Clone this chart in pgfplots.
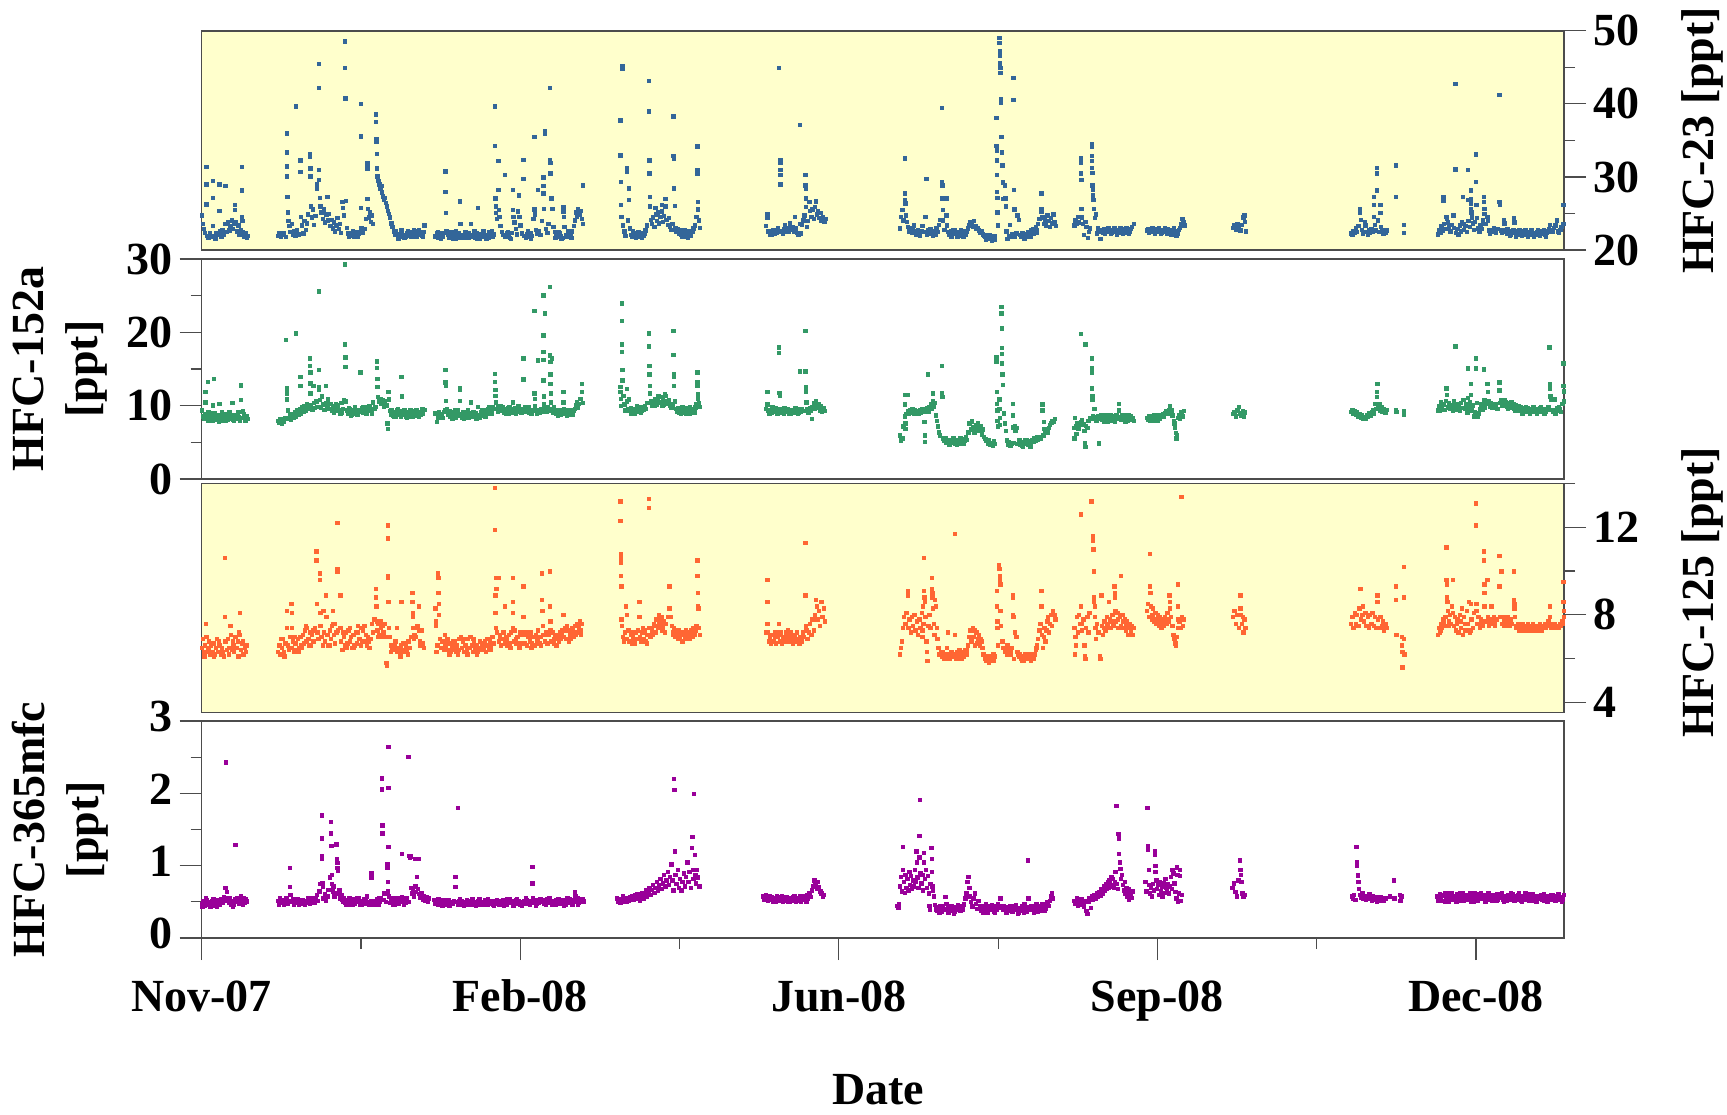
\documentclass[border=0pt]{standalone}
\usepackage{fontspec}
\setmainfont{Liberation Serif}
\usepackage{pgfplots}
\pgfplotsset{compat=1.18}
\definecolor{cA}{RGB}{51,102,153}
\definecolor{cB}{RGB}{51,153,102}
\definecolor{cC}{RGB}{255,102,51}
\definecolor{cD}{RGB}{153,0,153}
\definecolor{ybg}{RGB}{255,255,204}
\pgfplotsset{
  panel/.style={scale only axis, width=681.2pt, xmin=0, xmax=449, anchor=south west,
    axis line style={draw=black!70, line width=0.75pt},
    tick align=outside, major tick length=11pt, minor tick length=5.5pt,
    tick style={black!70, line width=0.6pt},
    tick label style={font=\fontsize{23}{27}\selectfont\bfseries},
    label style={font=\fontsize{23}{27}\selectfont\bfseries},
    /pgf/number format/assume math mode=true},
  pts/.style={only marks, color=#1, mark=square*, mark size=0.85pt, mark options={solid, line width=0.1pt, draw=#1, fill=#1}},
}
\begin{document}
\begin{tikzpicture}
\useasboundingbox (0,0) rectangle (863.5pt,-557pt);
% ---------------- HFC-23 ----------------
\begin{axis}[panel, at={(100.8pt,-125pt)}, height=109.6pt, ymin=20, ymax=50,
  axis background/.style={fill=ybg}, xtick=\empty,
  ytick={20,30,40,50}, minor ytick={25,35,45}, ytick pos=right, yticklabel pos=right,
  ylabel={HFC-23 [ppt]}, ylabel style={at={(rel axis cs:1.1013,0.5)}, anchor=center}]
\addplot[pts=cA] coordinates {
(0,24.8)(0.3,23.6)(0.6,22.9)(1,22.4)(1.45,31.4)(1.45,29.0)(1.5,26.3)(1.8,22.0)(2.2,21.7)(2.6,22.3)(3,21.8)(3.6,29.5)(3.6,27.2)(3.7,23.3)(4,22.0)(4.4,21.6)(4.8,22.4)(5.2,22.1)(5.8,29.0)(5.8,25.4)(6,22.6)(6.4,21.9)(6.8,22.8)(7.2,22.2)(7.7,28.8)(7.8,23.6)(8.2,22.5)(8.6,23.8)(9,22.7)(9.4,23.3)(9.8,24.1)(10.2,22.9)(10.5,23.6)(10.9,26.2)(10.9,25.5)(11.2,23.9)(11.6,22.6)(12,23.4)(12.4,22.2)(12.8,22.8)(13.1,31.4)(13.1,28.2)(13.2,24.6)(13.3,24.0)(13.6,22.5)(14,21.9)(14.4,22.3)(14.8,21.7)(15.2,22.0)
(25.1,22.0)(25.6,22.3)(26.1,21.9)(26.6,22.2)(27.1,22.4)(27.6,21.8)(28,36.0)(28,33.4)(28.1,31.5)(28.1,30.1)(28.2,27.3)(28.3,25.2)(28.5,24.0)(28.8,23.3)(29.2,22.5)(29.6,23.6)(30,22.1)(30.4,22.6)(30.9,39.7)(30.8,22.0)(31.3,22.8)(31.8,22.2)(32.4,32.3)(32.4,30.7)(32.6,24.6)(32.9,23.4)(33.4,22.3)(33.8,24.0)(34.2,22.8)(34.6,23.7)(35,24.9)(35.6,33.1)(35.6,32.8)(35.7,31.2)(35.7,30.1)(35.9,26.0)(36.2,24.5)(36.6,25.6)(37,23.5)(37.4,24.7)(37.8,29.0)(37.9,28.5)(38.5,45.5)(38.5,42.2)(38.6,31.0)(38.6,29.6)(38.9,27.2)(39.1,26.0)(39.4,25.2)(39.8,24.3)(40.2,25.6)(40.6,23.8)(41,24.9)(41.4,27.3)(41.5,24.1)(41.9,25.0)(42.3,23.3)(42.7,24.2)(43.1,23.0)(43.5,23.8)(43.9,22.6)(44.3,23.4)(44.7,24.4)(45.1,22.9)(45.5,23.6)(45.9,22.4)(46.3,26.6)(46.5,25.8)(46.8,24.8)(47.2,48.6)(47.2,45.0)(47.3,40.8)(47.5,26.8)(47.7,23.1)(48.1,22.3)(48.5,21.9)(48.9,22.4)(49.3,22.0)(49.7,22.6)(50.1,21.8)(50.5,22.2)(50.9,22.5)(51.3,21.9)(51.7,22.3)(52.3,40.0)(52.3,35.6)(52.4,25.8)(52.6,23.0)(53,22.4)(53.5,22.9)(54,24.3)(54.5,31.9)(54.5,31.2)(54.6,27.0)(54.8,25.7)(55.1,24.5)(55.4,25.2)(55.7,23.9)(56,24.8)(56.4,23.6)(57.4,38.6)(57.4,37.6)(57.5,35.2)(57.5,34.8)(57.6,33.2)(57.6,31.2)(57.9,30.1)(58.2,29.5)(58.5,29.0)(58.8,28.4)(59.1,28.8)(59.4,27.9)(59.7,27.4)(60,26.9)(60.3,27.2)(60.6,26.5)(61,26.0)(61.3,25.4)(61.6,25.0)(62,24.5)(62.4,23.7)(62.8,23.2)(63.2,22.6)(63.6,22.1)(64,22.3)(64.5,21.8)(65,22.2)(65.5,21.9)(66,22.4)(66.5,22.1)(67,21.8)(67.5,22.3)(68,22.0)(68.5,22.5)(69,22.2)(69.5,21.9)(70,22.4)(70.5,22.6)(71,22.1)(71.5,22.8)(72,22.3)(72.5,22.0)(73,22.5)(73.3,23.4)
(77,21.9)(77.5,22.3)(78,21.7)(78.5,22.0)(79,22.4)(79.5,21.8)(80.3,30.8)(80.3,28.0)(80.4,25.1)(80.6,22.6)(81,22.1)(81.5,21.7)(82,22.2)(82.5,21.9)(83,22.5)(83.5,21.6)(84,22.0)(84.5,22.3)(85,26.7)(85.2,23.6)(85.5,21.8)(86,22.1)(86.5,21.7)(87,22.2)(87.5,21.9)(88,22.4)(88.6,23.6)(89,21.8)(89.5,22.1)(90,21.7)(90.5,22.3)(91,25.8)(91.2,22.0)(91.6,21.6)(92,22.2)(92.5,21.9)(93,22.4)(93.5,21.8)(94,22.1)(94.5,21.7)(95,22.3)(95.5,22.6)(96,22.2)(96.6,39.7)(96.6,34.3)(96.7,27.1)(96.8,26.0)(96.9,25.1)(97.2,24.3)(97.7,32.2)(97.7,28.3)(97.8,25.5)(98,24.6)(98.4,23.3)(98.8,22.5)(99.3,22.1)(99.8,30.3)(100,21.8)(100.5,22.3)(101,22.0)(101.5,21.7)(102,22.4)(102.4,28.3)(102.5,25.5)(102.7,24.6)(103,23.8)(103.4,22.9)(103.8,22.2)(104.2,25.3)(104.5,27.5)(104.6,24.6)(105,23.4)(105.5,22.3)(106,32.4)(106,29.8)(106.3,22.0)(106.8,21.7)(107.3,22.2)(107.8,21.9)(108.3,22.4)(108.8,22.0)(109.2,24.3)(109.6,35.5)(109.6,25.6)(109.7,24.9)(110,22.8)(110.4,22.3)(110.8,28.3)(111.1,22.6)(111.5,22.1)(112,24.0)(112.5,30.0)(112.5,28.8)(112.6,27.8)(112.7,25.7)(113,36.3)(113.1,36.0)(113.4,22.9)(113.8,22.4)(114.2,23.6)(114.7,42.2)(114.7,32.4)(114.8,32.0)(114.9,30.5)(115.2,27.1)(115.5,25.7)(115.9,23.2)(116.3,22.5)(116.8,22.1)(117.3,21.8)(117.8,22.3)(118.3,22.0)(118.8,21.7)(119.2,25.9)(119.2,25.3)(119.3,24.6)(119.5,23.2)(120,22.1)(120.5,21.8)(121,22.4)(121.5,22.0)(122,22.6)(122.5,23.3)(123,24.1)(123.4,25.2)(123.6,24.6)(124,25.6)(124.4,24.9)(124.8,25.4)(125.2,24.3)(125.6,28.9)(125.6,23.6)
(137.9,37.8)(137.9,33.0)(138,29.4)(138.1,26.2)(138.3,24.6)(138.6,45.2)(138.6,44.8)(138.8,23.4)(139.2,22.6)(139.6,22.0)(140.1,31.2)(140.1,30.8)(140.3,24.1)(140.8,28.5)(140.8,26.9)(141,23.0)(141.4,22.1)(141.8,21.8)(142.2,22.3)(142.7,21.9)(143.2,22.2)(143.7,22.5)(144.2,21.8)(144.7,22.1)(145.2,22.4)(145.7,22.0)(146.2,22.7)(146.7,23.4)(147.4,43.2)(147.4,39.0)(147.5,32.3)(147.5,30.5)(147.6,27.3)(147.7,26.0)(147.9,24.2)(148.3,23.6)(148.7,24.5)(149.1,23.2)(149.5,25.8)(149.6,24.9)(149.9,24.0)(150.3,25.2)(150.7,23.7)(151.1,24.6)(151.5,26.2)(151.6,25.3)(151.9,23.9)(152.3,24.7)(152.7,27.0)(152.8,26.0)(153.1,24.2)(153.5,23.5)(153.9,24.4)(154.3,23.2)(154.7,22.8)(155.1,23.6)(155.4,38.3)(155.4,32.9)(155.5,32.5)(155.6,28.5)(155.8,26.1)(156,23.0)(156.4,22.5)(156.8,22.9)(157.2,22.3)(157.6,22.7)(158,22.1)(158.4,22.5)(158.8,22.0)(159.2,22.4)(159.6,21.9)(160,22.3)(160.4,22.6)(160.8,22.2)(161.2,22.0)(161.6,22.5)(162,23.0)(162.5,23.4)(162.9,24.6)(163.3,34.2)(163.3,31.0)(163.3,30.5)(163.4,26.6)(163.4,25.6)(163.7,24.1)(164.1,23.1)
(185.9,23.3)(186.3,24.9)(186.3,24.5)(186.7,22.6)(187.1,22.2)(187.5,22.5)(187.9,22.1)(188.3,22.7)(188.7,22.3)(189.1,22.8)(189.5,22.4)(189.9,23.0)(190.2,45.0)(190.6,32.3)(190.6,32.0)(190.6,31.0)(190.7,30.3)(190.7,29.0)(191,22.6)(191.4,22.3)(191.8,22.9)(192.2,23.4)(192.6,22.6)(193,23.1)(193.4,22.5)(193.8,23.7)(194.2,22.8)(194.6,23.2)(195,22.6)(195.4,24.6)(195.8,23.0)(196.2,22.4)(196.6,22.1)(197,37.2)(197,23.6)(197.4,22.3)(197.8,23.5)(198.2,24.1)(198.6,24.8)(198.9,30.3)(198.9,28.9)(199,28.5)(199,27.1)(199.1,25.9)(199.4,23.2)(199.8,24.0)(200.2,26.6)(200.4,25.4)(200.8,24.6)(201.2,25.6)(201.6,24.3)(202,25.9)(202.4,26.7)(202.6,24.9)(203,25.3)(203.4,24.4)(203.8,25.1)(204.2,24.0)(204.7,24.6)(205.1,23.9)(205.5,24.3)
(230.1,23.0)(230.4,24.6)(230.8,25.5)(231.2,24.1)(231.6,32.6)(231.6,27.8)(231.7,26.9)(231.8,26.4)(232,24.8)(232.3,23.9)(232.7,23.2)(233.1,22.6)(233.5,23.1)(233.9,22.4)(234.3,22.9)(234.7,23.4)(235.1,22.6)(235.5,22.2)(235.9,22.8)(236.3,22.3)(236.7,22.0)(237.1,22.6)(237.5,23.3)(237.9,22.5)(238.4,24.6)(238.8,29.8)(238.9,22.1)(239.3,22.7)(239.7,22.3)(240.1,22.9)(240.5,22.4)(240.9,22.0)(241.3,22.6)(241.7,22.2)(242.1,23.1)(242.5,22.5)(242.9,23.5)(243.3,24.2)(243.9,39.5)(243.9,29.3)(244,28.9)(244.1,27.1)(244.2,25.5)(244.3,24.1)(244.7,22.8)(245.4,27.1)(245.4,24.8)(245.6,23.4)(246,22.5)(246.4,22.1)(246.8,22.6)(247.2,22.2)(247.6,22.7)(248,22.3)(248.4,22.5)(248.8,22.1)(249.2,22.4)(249.6,22.0)(250,22.5)(250.4,22.2)(250.8,22.6)(251.2,22.3)(251.6,22.1)(252,22.6)(252.4,23.0)(252.8,23.4)(253.2,23.9)(253.6,23.6)(254.1,23.2)(254.5,24.0)(254.9,23.3)(255.3,22.9)(255.7,23.1)(256.1,22.7)(256.5,22.4)(256.9,22.6)(257.3,22.2)(257.7,22.0)(258.1,21.8)(258.5,22.1)(258.9,21.7)(259.3,21.9)(259.7,21.6)(260.1,21.8)(260.6,21.5)(261,21.7)(261.4,21.4)(261.8,38.1)(261.8,34.3)(261.9,33.7)(261.9,32.3)(262,30.3)(262,28.0)(262.1,27.2)(262.2,25.2)(262.4,23.4)(262.8,49.1)(262.8,48.4)(262.9,47.2)(262.9,46.6)(263,45.6)(263.1,45.0)(263.2,44.3)(263.3,40.7)(263.4,40.2)(263.5,35.5)(263.6,33.4)(263.8,31.6)(264,29.3)(264.2,27.0)(264.7,28.9)(264.8,27.1)(264.9,26.0)(265.1,22.6)(265.5,21.6)(265.9,22.0)(266.3,23.5)(266.7,21.8)(267.1,22.2)(267.5,43.6)(267.5,40.6)(267.6,28.3)(267.7,25.6)(268,21.9)(268.4,22.3)(268.8,24.8)(269.2,24.2)(269.6,22.1)(270,21.8)(270.4,22.4)(270.8,22.0)(271.2,21.7)(271.6,22.2)(272,21.9)(272.4,22.5)(272.8,22.1)(273.2,22.7)(273.6,22.3)(274,22.9)(274.4,22.5)(274.8,23.2)(275.2,22.8)(275.6,23.6)(276,24.3)(276.6,27.8)(276.6,25.7)(276.7,25.3)(277,24.5)(277.4,23.6)(277.8,24.2)(278.2,23.4)(278.6,24.8)(279,24.0)(279.4,23.2)(279.8,24.4)(280.2,23.7)(280.6,24.9)(281,23.9)(281.4,23.3)
(287.5,23.4)(287.9,24.1)(288.3,23.6)(288.7,24.6)(289.1,23.8)(289.7,32.6)(289.7,32.0)(289.7,30.5)(289.8,29.6)(289.8,25.7)(290,24.5)(290.3,23.6)(290.7,22.1)(291.1,23.9)(291.5,23.2)(291.9,21.7)(292.3,22.5)(292.7,23.0)(293.3,34.5)(293.3,34.2)(293.3,32.9)(293.4,32.2)(293.4,31.3)(293.5,30.6)(293.5,28.9)(293.6,28.3)(293.7,27.5)(293.8,26.9)(294,25.7)(294.3,24.4)(294.7,24.9)(294.9,22.3)(295.3,23.0)(295.7,22.5)(296.1,21.6)(296.5,22.8)(296.9,22.4)(297.3,22.9)(297.7,22.6)(298.1,22.8)(298.5,22.5)(298.9,22.9)(299.3,22.7)(299.7,22.4)(300.1,22.8)(300.5,22.6)(300.9,23.0)(301.3,22.5)(301.7,22.7)(302.1,22.4)(302.5,22.9)(302.9,22.6)(303.3,22.8)(303.7,22.5)(304.1,22.9)(304.5,22.7)(304.9,22.4)(305.3,22.8)(305.7,22.6)(306.1,22.9)(306.5,23.2)(307.1,23.6)
(311.5,22.7)(311.9,22.9)(312.3,22.6)(312.7,22.8)(313.1,22.5)(313.5,22.9)(313.9,22.7)(314.3,22.6)(314.7,22.9)(315.1,22.5)(315.5,22.8)(315.9,22.6)(316.3,22.4)(316.7,22.7)(317.1,22.5)(317.5,22.8)(317.9,22.6)(318.3,22.9)(318.7,22.7)(319.1,22.4)(319.5,22.2)(319.9,22.6)(320.3,23.0)(320.7,22.6)(321.1,22.0)(321.5,22.3)(321.9,22.8)(322.3,23.1)(322.7,23.6)(323.1,24.3)(323.5,23.9)(323.8,23.4)
(339.8,23.1)(340.3,23.4)(340.8,22.8)(341.3,23.6)(341.8,23.0)(342.3,22.7)(342.8,23.5)(343.2,24.5)(343.5,24.8)(343.8,23.9)(344.1,22.6)
(378.7,22.3)(379.1,22.1)(379.5,22.6)(379.9,22.4)(380.3,23.0)(380.7,22.5)(381.1,23.3)(381.6,25.7)(381.6,25.2)(381.9,24.2)(382.3,22.8)(382.7,22.3)(383.3,23.9)(383.4,23.4)(383.8,22.5)(384.2,22.2)(384.6,22.7)(385,22.4)(385.4,22.9)(385.8,22.6)(386.2,27.3)(386.2,26.2)(386.3,24.6)(386.5,23.5)(386.9,22.7)(387.2,31.3)(387.2,30.5)(387.3,28.2)(387.5,24.1)(387.8,22.5)(388.4,26.2)(388.4,25.1)(388.6,23.2)(389,22.6)(389.4,22.3)(389.8,22.8)(390.2,22.4)(390.6,22.7)(393.5,31.6)(393.5,27.3)(396.1,23.5)(396.1,22.4)
(407.3,22.2)(407.7,22.8)(408.1,22.4)(408.5,23.3)(408.9,22.7)(409.2,27.3)(409.2,26.8)(409.4,23.6)(409.8,22.9)(410.2,24.6)(410.3,24.3)(410.6,23.8)(411,23.2)(411.4,22.6)(411.8,23.5)(412.4,24.8)(412.6,23.1)(413.1,42.8)(413.1,31.1)(413.3,22.4)(413.7,22.9)(414.1,22.2)(414.5,23.4)(414.9,22.6)(415.3,23.9)(415.6,27.3)(415.7,23.6)(416,22.8)(416.4,23.3)(416.8,22.5)(417.2,31.0)(417.2,26.9)(417.4,24.0)(417.8,23.2)(418.2,28.2)(418.2,27.0)(418.3,26.4)(418.3,25.7)(418.4,25.2)(418.6,24.5)(418.9,23.7)(419.2,22.8)(419.6,23.9)(419.9,33.1)(419.9,29.4)(420,26.2)(420.2,24.4)(420.6,23.0)(421,22.6)(421.4,23.5)(421.8,22.9)(422.1,24.1)(422.5,27.3)(422.5,26.6)(422.6,25.7)(422.7,25.0)(423,23.6)(423.7,24.6)(423.8,24.0)(424.1,22.7)(424.5,22.3)(424.9,22.8)(425.3,22.5)(425.7,23.0)(426.1,22.6)(426.5,22.4)(427,22.9)(427.6,41.3)(427.6,26.6)(427.7,26.2)(428,22.7)(428.4,22.4)(428.8,22.8)(429.1,24.2)(429.3,23.7)(429.6,22.6)(430,22.3)(430.4,22.7)(430.8,22.5)(431.2,22.2)(431.6,22.6)(432,22.4)(432.4,24.4)(432.5,23.8)(432.8,22.5)(433.2,22.3)(433.6,22.6)(434,22.2)(434.4,22.5)(434.8,22.3)(435.2,22.6)(435.6,22.2)(436,22.4)(436.4,22.3)(436.8,22.5)(437.2,22.2)(437.6,22.4)(438,22.3)(438.4,22.6)(438.8,22.2)(439.2,22.4)(439.6,22.3)(440,22.5)(440.4,22.2)(440.8,22.4)(441.2,22.3)(441.6,22.6)(442,22.3)(442.4,22.5)(442.8,22.2)(443.2,22.4)(443.6,22.6)(444,22.9)(444.3,23.5)(444.7,22.8)(445.1,22.5)(445.5,23.1)(446,23.4)(446.5,24.1)(446.9,22.6)(447.3,22.4)(447.7,22.8)(448.1,23.2)(448.7,26.2)(448.7,23.6)(449.2,22.5)
(63.8,22.6)(64.8,21.6)(65.8,22.7)(66.8,21.7)(67.8,22.6)(68.8,21.8)(69.8,22.8)(70.8,21.8)(71.8,22.5)(72.8,21.9)
(77.8,22.5)(78.8,21.6)(79.8,22.4)(81.8,22.5)(82.8,21.6)(83.8,22.6)(84.8,21.7)(86.8,22.5)(87.8,21.7)(89.8,22.6)(90.8,21.6)(92.8,22.6)(93.8,21.6)(94.8,22.5)(95.8,21.8)
(100.8,22.5)(101.8,21.6)(107.5,22.6)(108.5,21.6)(116.5,21.7)(117.5,22.5)(118.5,21.6)(120.8,22.6)(121.8,21.7)
(142,22.6)(143,21.7)(144,22.5)(145,21.7)(146,22.3)(157,22.7)(158.2,21.8)(159,22.7)(160.2,21.7)(161,22.6)
(247,21.8)(248.2,22.7)(249,21.8)(250.2,22.8)(251,21.8)(257,22.6)(258.3,21.5)(259.5,22.1)(260.3,21.3)(261.2,21.9)
(270.2,22.3)(271,21.6)(272.2,22.4)(273,21.8)(274.2,22.3)(275,22.4)
(297.5,22.3)(298.7,23.1)(299.5,22.3)(300.7,23.1)(301.5,22.2)(302.7,23.1)(303.5,22.3)(304.7,23.1)(305.5,22.3)
(312.1,22.4)(313.3,23.1)(314.1,22.3)(315.3,23.1)(316.1,22.3)(317.3,23.1)(318.1,22.3)(319.3,22.8)
(430.2,22.9)(431,22.0)(432.2,22.8)(433,21.9)(434.2,22.8)(435,22.0)(436.2,22.8)(437,21.9)(438.2,22.8)(439,21.9)(440.2,22.8)(441,22.0)(442.2,22.8)(443,21.9)
};
\end{axis}
% ---------------- HFC-152a ----------------
\begin{axis}[panel, at={(100.8pt,-239.5pt)}, height=110pt, ymin=0, ymax=30, xtick=\empty,
  ytick={0,10,20,30}, minor ytick={5,15,25}, ytick pos=left, yticklabel pos=left,
  ylabel={HFC-152a\\{[ppt]}}, ylabel style={at={(rel axis cs:-0.1039,0.5)}, anchor=center, align=center}]
\addplot[pts=cB] coordinates {
(0,9.4)(0.3,8.6)(0.7,8.2)(1,8.9)(1.2,11.9)(1.2,10.5)(1.4,8.4)(1.9,13.3)(2,8.0)(2.4,8.7)(2.8,8.3)(3.2,9.0)(3.6,10.1)(3.6,8.9)(4,13.7)(4.1,8.2)(4.5,8.6)(5,8.1)(5.4,8.8)(5.8,10.3)(5.9,8.4)(6.3,8.0)(6.8,8.7)(7.2,8.3)(7.6,8.9)(8,8.4)(8.4,8.1)(8.8,8.6)(9.2,8.2)(9.7,8.8)(10.1,10.4)(10.2,8.5)(10.6,8.0)(11,8.7)(11.4,8.3)(11.8,9.1)(12.2,8.5)(12.6,8.0)(12.8,12.8)(12.8,10.8)(13,9.2)(13.4,8.4)(13.8,8.9)(14.2,8.3)(14.6,8.6)(15,8.2)
(25.1,8.0)(25.5,7.7)(25.9,8.2)(26.3,7.6)(26.7,8.1)(27.1,7.8)(27.5,8.3)(27.6,19.0)(28,12.4)(28,11.7)(28.1,10.9)(28.3,9.4)(28.6,8.2)(29,8.7)(29.4,8.1)(29.8,8.9)(30.2,8.4)(30.6,9.2)(30.9,19.9)(31,8.6)(31.4,9.4)(31.8,8.8)(32.2,9.6)(32.4,14.0)(32.4,12.7)(32.6,9.0)(33,9.8)(33.4,9.2)(33.8,10.0)(34.2,9.4)(34.6,10.2)(35,9.6)(35.6,16.5)(35.6,15.5)(35.7,14.6)(35.7,13.1)(35.8,11.7)(36,10.1)(36.4,9.5)(36.8,12.7)(36.9,10.4)(37.3,9.7)(37.7,10.6)(38.1,9.9)(38.5,25.6)(38.5,14.9)(38.6,12.6)(38.6,12.2)(38.8,10.8)(39.2,9.8)(39.6,11.3)(40,10.2)(40.4,9.5)(40.8,12.7)(40.9,10.4)(41.3,9.8)(41.6,10.9)(42,9.6)(42.4,10.3)(42.8,9.4)(43.2,10.0)(43.6,9.1)(44,9.7)(44.4,9.3)(44.8,10.1)(45.2,9.5)(45.6,9.0)(46,10.4)(46.4,9.6)(46.8,10.8)(47.2,29.3)(47.2,18.4)(47.3,16.6)(47.3,15.3)(47.5,10.6)(47.8,9.4)(48.2,9.0)(48.6,9.6)(49,9.2)(49.4,8.8)(49.8,9.4)(50.2,9.0)(50.6,9.5)(51,9.1)(51.4,8.9)(51.8,9.5)(52.3,14.6)(52.4,9.2)(52.8,9.7)(53.2,9.1)(53.6,9.8)(54,9.3)(54.4,9.9)(54.8,9.4)(55.2,10.0)(55.6,9.5)(56,9.0)(56.4,10.5)(56.8,9.6)(57.2,9.9)(57.7,16.1)(57.7,15.2)(57.8,13.7)(57.8,12.6)(58,11.2)(58.4,10.6)(58.8,10.9)(59.2,10.3)(59.6,10.8)(60,9.9)(60.4,10.6)(60.8,10.1)(61.1,7.6)(61.2,6.9)(61.5,11.9)(61.6,10.9)(61.9,9.3)(62.3,8.8)(62.7,9.2)(63.1,8.7)(63.5,9.1)(63.9,8.6)(64.3,9.4)(64.7,8.8)(65.1,9.0)(65.5,8.6)(65.8,14.0)(65.9,11.3)(66.1,9.3)(66.5,8.8)(66.9,9.1)(67.3,8.5)(67.7,9.2)(68.1,8.7)(68.5,9.0)(68.9,8.6)(69.3,9.3)(69.7,8.8)(70.1,9.1)(70.5,8.7)(70.9,9.3)(71.3,8.9)(71.7,9.2)(72.1,8.8)(72.5,9.4)(72.9,9.0)(73.3,9.5)
(77,9.0)(77.4,7.8)(77.8,8.6)(78.2,9.1)(78.6,8.5)(79,8.9)(79.4,8.4)(79.8,9.2)(80.3,14.9)(80.3,13.2)(80.4,12.8)(80.5,10.7)(80.7,9.6)(81.1,8.8)(81.5,9.3)(81.9,8.6)(82.3,9.1)(82.7,8.5)(83.1,9.0)(83.5,8.4)(83.9,8.9)(84.3,9.4)(84.6,8.7)(85,12.5)(85,12.2)(85.1,10.7)(85.4,8.9)(85.8,8.4)(86.2,9.1)(86.6,8.6)(87,9.2)(87.4,8.7)(87.8,8.4)(88.2,9.0)(88.6,10.5)(88.7,8.8)(89.1,8.5)(89.5,9.1)(89.9,8.6)(90.3,9.0)(90.7,8.5)(91,9.9)(91.2,8.8)(91.6,8.4)(92,9.1)(92.4,8.7)(92.8,9.3)(93.2,8.8)(93.6,9.4)(94,9.0)(94.4,9.6)(94.8,9.1)(95.2,9.7)(95.6,9.2)(96,9.8)(96.6,14.4)(96.6,13.3)(96.7,12.2)(96.7,11.4)(96.8,10.5)(97.1,9.6)(97.5,9.2)(97.7,9.9)(98,9.4)(98.4,10.0)(98.8,9.3)(99.2,9.8)(99.6,9.1)(100,9.6)(100.4,9.2)(100.8,9.7)(101.2,9.0)(101.6,9.5)(102,9.1)(102.4,10.5)(102.5,9.6)(102.9,9.2)(103.3,9.7)(103.7,9.3)(104.1,9.8)(104.5,9.2)(104.9,9.6)(105.3,9.1)(105.7,9.5)(106,16.5)(106,13.6)(106.2,9.3)(106.6,9.8)(107,9.2)(107.4,9.6)(107.8,9.1)(108.2,9.5)(108.6,9.0)(109,9.4)(109.6,23.0)(109.6,11.7)(109.7,11.0)(109.8,10.0)(110.1,9.4)(110.5,9.0)(110.8,16.2)(110.9,9.5)(111.3,9.1)(111.7,9.6)(112.1,9.2)(112.5,25.1)(112.5,19.6)(112.5,17.4)(112.6,16.3)(112.6,13.5)(112.7,11.3)(112.8,10.2)(113,22.6)(113.1,9.7)(113.5,9.2)(113.9,9.8)(114.3,9.3)(114.7,26.2)(114.7,16.9)(114.8,16.0)(114.8,14.3)(114.9,13.0)(115,11.7)(115.1,10.5)(115.3,16.5)(115.5,9.6)(115.9,9.1)(116.3,9.5)(116.7,9.0)(117.1,9.4)(117.5,8.9)(117.9,9.3)(118.3,8.8)(118.7,9.2)(119.2,11.9)(119.2,10.5)(119.3,9.6)(119.7,9.0)(120.1,9.4)(120.5,8.9)(120.9,9.3)(121.3,8.8)(121.7,9.2)(122.1,8.8)(122.5,9.3)(122.9,9.6)(123.3,10.1)(123.6,10.5)(123.9,9.7)(124.3,10.3)(124.7,11.0)(125.2,13.0)(125.3,11.9)(125.6,10.4)
(137.9,12.6)(137.9,11.9)(138,11.0)(138,10.0)(138.4,24.0)(138.4,21.6)(138.5,18.4)(138.5,17.4)(138.6,14.9)(138.6,13.5)(138.9,11.4)(139.2,10.2)(139.6,9.4)(140,10.6)(140.1,12.3)(140.4,9.6)(140.8,10.9)(141.2,9.3)(141.6,9.0)(142,9.5)(142.4,9.1)(142.8,9.6)(143.2,9.2)(143.6,9.7)(144,9.3)(144.4,9.8)(144.8,9.4)(145.2,9.9)(145.6,9.5)(146,10.0)(146.4,9.6)(146.8,10.4)(147.4,19.9)(147.4,18.1)(147.5,15.5)(147.5,14.3)(147.6,12.7)(147.7,11.7)(147.9,10.6)(148.3,10.1)(148.7,10.7)(149.1,10.3)(149.5,10.9)(149.9,10.2)(150.3,11.0)(150.7,10.4)(151.1,11.2)(151.5,10.5)(151.9,10.9)(152.3,10.2)(152.7,11.4)(153.1,10.6)(153.5,10.3)(153.9,10.8)(154.3,10.1)(154.7,9.7)(155.1,10.2)(155.4,20.2)(155.4,17.0)(155.5,14.4)(155.5,14.0)(155.6,12.7)(155.8,10.6)(156.2,9.6)(156.6,9.2)(157,9.7)(157.4,9.3)(157.8,9.0)(158.2,9.5)(158.6,9.1)(159,9.6)(159.4,9.2)(159.8,9.7)(160.2,9.3)(160.6,9.0)(161,9.5)(161.4,9.1)(161.8,9.6)(162.2,9.2)(162.6,9.8)(163,10.2)(163.3,14.6)(163.3,13.3)(163.3,12.7)(163.4,11.6)(163.4,11.0)(163.7,10.4)(164.1,9.9)
(185.9,9.6)(186.3,11.9)(186.3,10.2)(186.6,9.3)(187,9.0)(187.4,9.5)(187.8,9.1)(188.2,9.6)(188.6,9.2)(189,9.7)(189.4,9.3)(189.8,9.0)(190.2,18.0)(190.2,17.2)(190.3,11.8)(190.4,11.4)(190.6,9.6)(191,9.1)(191.4,9.5)(191.8,9.0)(192.2,9.4)(192.6,9.2)(193,9.6)(193.4,9.1)(193.8,9.5)(194.2,9.0)(194.6,9.4)(195,9.1)(195.4,9.5)(195.8,9.2)(196.2,9.6)(196.6,9.1)(197,14.7)(197,9.5)(197.4,9.2)(197.8,9.6)(198.2,9.3)(198.9,20.2)(198.9,14.7)(199,12.6)(199,12.0)(199.2,10.5)(199.5,9.6)(199.9,9.1)(200.3,9.7)(200.7,9.3)(201,8.2)(201.2,9.8)(201.6,10.4)(202,9.6)(202.4,10.6)(202.8,9.8)(203.2,10.2)(203.6,9.4)(204,10.0)(204.4,9.2)(204.8,9.7)(205.2,9.3)
(230.1,6.0)(230.4,5.3)(230.8,5.6)(231.2,7.2)(231.6,11.5)(231.6,10.2)(231.7,8.6)(231.8,7.6)(231.9,6.9)(232.2,8.9)(232.6,11.5)(232.6,9.3)(233,8.9)(233.4,9.5)(233.8,9.1)(234.2,9.6)(234.6,9.0)(235,9.4)(235.4,8.9)(235.8,9.3)(236.2,9.0)(236.6,9.5)(237,9.1)(237.4,9.6)(237.8,9.2)(238.1,7.8)(238.2,6.0)(238.3,5.1)(238.6,9.4)(239,9.7)(239.3,14.3)(239.4,9.2)(239.8,9.8)(240.2,10.2)(240.6,9.6)(241,11.7)(241,10.6)(241.1,9.9)(241.4,10.4)(241.8,8.7)(242.2,8.0)(242.5,7.2)(242.9,6.4)(243.3,6.0)(243.9,15.5)(243.9,11.7)(244,11.2)(244.2,5.6)(244.6,5.2)(245,5.4)(245.4,5.0)(245.8,5.3)(246.2,4.9)(246.6,5.2)(247,5.0)(247.4,5.4)(247.8,5.1)(248.2,4.9)(248.6,5.3)(249,5.0)(249.4,5.2)(249.8,4.9)(250.2,5.4)(250.6,5.1)(251,5.5)(251.4,5.2)(251.8,5.7)(252.2,5.4)(252.6,6.4)(253,7.6)(253.4,6.8)(253.8,7.9)(254.2,7.1)(254.6,6.4)(255,7.4)(255.4,6.9)(255.8,7.7)(256.2,6.6)(256.6,7.2)(257,6.1)(257.4,6.8)(257.8,5.8)(258.2,5.5)(258.6,5.2)(259,4.9)(259.4,5.3)(259.8,4.7)(260.2,5.0)(260.6,4.6)(261,5.2)(261.4,4.8)(261.8,16.7)(261.8,16.1)(262,11.9)(262,10.3)(262.1,9.4)(262.2,8.0)(262.3,7.2)(262.8,10.9)(262.8,9.6)(262.9,8.4)(263,7.4)(263.5,23.5)(263.5,22.6)(263.6,20.6)(263.6,17.9)(263.7,17.1)(263.7,15.8)(263.8,14.3)(263.9,12.9)(264.3,9.0)(264.6,7.6)(264.9,6.6)(265.2,5.3)(265.6,4.7)(266,5.1)(266.4,4.6)(266.8,4.9)(267.2,10.3)(267.2,8.7)(267.3,7.1)(267.6,5.0)(268,7.3)(268.1,6.6)(268.4,7.0)(268.8,4.8)(269.2,5.2)(269.6,4.7)(270,5.1)(270.4,4.6)(270.8,4.9)(271.2,5.3)(271.6,4.8)(272,5.2)(272.4,4.7)(272.8,5.0)(273.2,4.8)(273.6,5.3)(274,5.1)(274.4,5.6)(274.8,5.3)(275.2,5.7)(275.6,5.4)(276,5.8)(276.4,5.5)(277,10.2)(277,9.4)(277.3,6.0)(277.5,7.8)(277.6,6.9)(277.9,6.3)(278.3,6.7)(278.7,6.4)(279.1,7.0)(279.5,7.4)(279.9,7.7)(280.3,8.0)(280.7,7.8)(281.1,8.2)
(287.5,7.0)(287.6,5.6)(287.8,8.4)(288,7.3)(288.2,6.2)(288.5,7.7)(288.9,6.9)(289.3,7.4)(289.7,19.8)(289.7,7.8)(290.1,8.1)(290.5,7.5)(290.8,6.6)(291,4.9)(291.1,4.4)(291.2,18.4)(291.4,7.3)(291.8,7.0)(292.2,8.0)(292.6,8.4)(293.3,16.5)(293.3,15.2)(293.4,14.6)(293.4,12.4)(293.5,11.4)(293.5,10.9)(293.6,8.6)(293.8,8.2)(294.1,9.6)(294.4,8.5)(294.8,8.0)(295.2,8.6)(295.6,4.9)(295.8,8.2)(296.2,8.7)(296.6,8.1)(297,8.5)(297.4,7.9)(297.8,8.6)(298.2,8.2)(298.6,8.7)(299,8.3)(299.4,8.0)(299.8,8.5)(300.2,8.1)(300.6,8.6)(301,8.2)(301.4,8.8)(301.8,8.3)(302.2,10.3)(302.3,9.4)(302.6,8.5)(303,8.1)(303.4,8.6)(303.8,8.2)(304.2,8.7)(304.6,8.3)(305,8.0)(305.4,8.5)(305.8,8.1)(306.2,8.6)(306.6,8.3)(307.1,8.0)
(311.5,8.4)(311.9,8.1)(312.3,8.6)(312.7,8.2)(313.1,8.5)(313.5,8.0)(313.9,8.4)(314.3,8.7)(314.7,8.2)(315.1,8.6)(315.5,8.3)(315.9,8.8)(316.3,8.5)(316.7,8.9)(317.1,8.6)(317.5,9.0)(317.9,9.3)(318.3,8.9)(318.7,9.5)(319.1,10.0)(319.5,9.4)(319.9,8.7)(320.3,8.0)(320.5,7.6)(320.7,7.0)(320.9,6.3)(321.1,5.6)(321.3,6.0)(321.6,8.4)(322,8.8)(322.4,8.2)(322.8,9.1)(323.2,8.6)(323.6,9.3)
(339.8,8.9)(340.3,9.2)(340.8,8.6)(341.3,9.4)(341.8,9.9)(342.2,9.0)(342.6,8.7)(343,9.3)(343.4,8.5)(343.8,9.1)
(378.7,9.2)(379.1,9.5)(379.5,9.0)(379.9,9.3)(380.3,8.8)(380.7,9.1)(381.1,8.6)(381.5,8.9)(381.9,8.4)(382.3,8.7)(382.7,8.2)(383.1,8.5)(383.5,8.3)(383.9,8.8)(384.3,8.5)(384.7,9.0)(385.1,8.7)(385.5,9.2)(385.9,9.4)(386.3,9.0)(386.6,10.3)(386.9,9.6)(387.2,11.9)(387.3,11.2)(387.4,13.0)(387.6,9.8)(388,10.3)(388.3,9.4)(388.7,9.9)(389.1,9.2)(389.5,9.6)(390,9.1)(390.5,9.5)(393.5,9.5)(393.6,9.2)(396.1,9.3)(396.2,8.8)
(407.3,9.4)(407.6,10.0)(407.9,9.3)(408.3,10.5)(408.7,9.6)(409.1,10.2)(409.5,9.5)(409.9,10.7)(410.2,12.4)(410.3,11.5)(410.6,9.8)(411,10.4)(411.4,9.6)(411.8,10.1)(412.2,9.4)(412.6,10.6)(413.1,18.1)(413,9.8)(413.4,10.3)(413.8,9.5)(414.2,10.0)(414.6,9.3)(415,10.4)(415.4,9.7)(415.8,10.8)(416.2,9.6)(416.6,10.2)(417,9.1)(417.2,15.1)(417.3,11.1)(417.5,9.8)(417.9,10.5)(418.2,13.0)(418.3,11.5)(418.5,9.4)(418.9,10.1)(419.3,8.6)(419.6,9.2)(419.9,16.5)(419.9,15.1)(420.1,10.4)(420.5,8.5)(420.9,9.0)(421.3,9.6)(421.7,10.2)(422.1,9.5)(422.5,15.0)(422.6,10.8)(422.9,9.7)(423.3,10.3)(423.7,13.0)(423.8,11.9)(424.1,10.6)(424.5,9.9)(424.9,10.4)(425.3,9.8)(425.7,10.3)(426.1,9.7)(426.5,10.2)(427,9.6)(427.6,13.2)(427.6,12.1)(427.8,10.4)(428.2,10.8)(428.6,10.1)(429,10.6)(429.4,10.0)(429.8,10.5)(430.2,9.9)(430.6,10.4)(431,9.8)(431.4,10.3)(431.8,9.7)(432.2,10.2)(432.6,9.6)(433,10.1)(433.4,9.5)(433.8,9.9)(434.2,9.4)(434.6,9.8)(435,9.3)(435.4,9.7)(435.8,9.2)(436.2,9.6)(436.6,9.3)(437,9.7)(437.4,9.2)(437.8,9.6)(438.2,9.3)(438.6,9.7)(439,9.2)(439.4,9.5)(439.8,9.2)(440.2,9.6)(440.6,9.3)(441,9.7)(441.4,9.2)(441.8,9.5)(442.2,9.3)(442.6,9.6)(443,9.2)(443.4,9.5)(443.8,9.8)(444.1,18.0)(444.2,13.0)(444.3,12.4)(444.4,11.3)(444.6,10.9)(445,9.5)(445.4,9.2)(445.9,10.9)(446.3,9.4)(446.7,9.7)(447.1,9.3)(447.5,9.6)(447.9,9.2)(448.3,10.3)(448.7,15.8)(448.7,12.7)(448.8,12.0)(448.9,10.6)(449.2,9.6)
(2.2,9.1)(3.4,8.0)(4.3,9.0)(5.6,7.9)(6.6,9.1)(7.8,8.0)(9,9.2)(10.4,8.1)(11.6,8.2)(13.6,9.3)(14.4,8.0)
(44.2,10.2)(45.4,8.9)(46.2,9.1)(48.4,9.7)(49.2,8.7)(50.4,9.8)(51.2,8.8)(53,9.9)(54.2,8.9)(55,9.6)
(62.5,9.5)(63.3,8.5)(64.5,9.6)(66.7,9.5)(67.5,8.4)(68.7,9.4)(69.5,8.5)(70.7,9.5)(71.5,8.5)(72.7,9.6)
(78,8.4)(80,9.4)(82.5,8.3)(83.3,9.4)(86.4,8.3)(87.6,9.5)(90.5,8.3)(92.2,9.5)(93.4,8.6)(94.6,9.8)(95.4,8.9)
(98.6,9.9)(100.2,9.0)(101.4,9.9)(103.5,9.0)(104.3,10.0)(107.6,9.9)(108.4,9.0)(116.1,9.8)(117.3,8.7)(118.5,9.5)(120.3,8.7)(121.5,9.5)
(141.4,9.7)(142.6,8.9)(143.4,10.0)(144.6,9.1)(149.3,10.0)(150.5,11.3)(151.7,10.1)(152.5,11.6)(157.2,9.1)(158.4,9.8)(159.6,8.9)(160.8,9.8)(162.4,9.1)
(188,9.8)(189.6,8.9)(192,9.7)(193.6,8.9)(195.6,9.7)(196.4,8.9)
(245.2,5.6)(246.4,4.7)(247.6,5.6)(248.8,4.7)(250,5.6)(251.2,4.9)(269.4,5.4)(270.6,4.4)(271.8,5.4)(273,4.5)(274.2,5.3)
(297.2,8.8)(298.4,7.9)(299.6,8.7)(300.8,7.9)(303.2,8.8)(304.4,7.9)(305.6,8.7)
(312.5,8.0)(313.7,8.7)(314.9,8.0)(316.1,8.8)
(429.2,10.8)(430.4,9.6)(431.6,10.5)(432.8,9.4)(434,10.0)(435.2,9.0)(436.4,9.8)(437.6,9.0)(438.8,9.8)(440,9.0)(441.2,9.8)(442.4,9.0)(443.6,9.7)(446.1,9.0)(447.3,9.8)
};
\end{axis}
% ---------------- HFC-125 ----------------
\begin{axis}[panel, at={(100.8pt,-356.3pt)}, height=114.55pt, ymin=3.52, ymax=14,
  axis background/.style={fill=ybg}, xtick=\empty,
  ytick={4,8,12}, minor ytick={6,10,14}, ytick pos=right, yticklabel pos=right,
  ylabel={HFC-125 [ppt]}, ylabel style={at={(rel axis cs:1.1013,0.526)}, anchor=center}]
\addplot[pts=cC] coordinates {
(0,6.5)(0.3,6.9)(0.6,6.3)(1,6.6)(1.4,7.6)(1.5,7.0)(1.8,6.3)(2.2,6.5)(2.6,6.2)(3,6.6)(3.4,6.3)(3.8,6.7)(4.2,6.2)(4.6,6.5)(5,6.9)(5.4,6.3)(5.8,6.6)(6.2,6.2)(6.6,6.5)(7,6.3)(7.5,10.6)(7.6,7.9)(7.8,6.8)(8.2,6.4)(8.6,6.9)(9,6.5)(9.4,7.5)(9.6,7.1)(9.8,6.4)(10.2,6.8)(10.6,6.3)(11,7.0)(11.4,6.5)(11.8,6.8)(12.2,7.2)(12.5,8.1)(12.6,7.1)(12.9,6.4)(13.3,6.7)(13.7,6.2)(14.1,6.5)(14.5,6.3)(14.9,6.6)
(25.1,6.3)(25.5,6.6)(25.9,6.2)(26.3,6.5)(26.7,6.9)(27.1,6.3)(27.5,6.7)(28,8.2)(28,7.4)(28.3,6.6)(28.7,6.4)(29.1,7.0)(29.5,6.5)(29.5,8.5)(29.6,8.1)(29.7,7.4)(30,6.8)(30.4,6.3)(30.8,6.7)(31.2,6.4)(31.6,6.9)(32,6.5)(32.4,7.0)(32.8,6.6)(33.2,7.1)(33.6,6.7)(34,7.3)(34.4,6.8)(34.7,7.4)(35.1,6.9)(35.5,7.2)(35.9,6.6)(36.3,7.1)(36.7,6.8)(37.2,7.4)(37.7,10.9)(37.7,10.5)(37.8,8.5)(38,7.2)(38.4,6.9)(38.9,9.9)(38.9,9.6)(39,8.1)(39.1,7.5)(39.4,7.0)(39.8,6.6)(40.1,8.2)(40.2,7.2)(40.6,6.8)(40.8,8.9)(41,7.9)(41.3,7.1)(41.7,6.6)(42.1,7.3)(42.5,6.9)(42.9,7.5)(43.2,8.2)(43.3,7.6)(43.5,7.1)(43.9,6.7)(44.3,7.2)(44.6,12.2)(44.7,10.1)(44.7,10.0)(44.9,7.3)(45.6,8.9)(45.6,7.4)(45.9,6.8)(46.3,6.4)(46.7,7.0)(47.1,6.6)(47.5,7.2)(47.9,6.7)(48.3,7.3)(48.7,6.8)(49.1,7.0)(49.5,6.5)(49.9,7.1)(50.3,6.6)(50.7,7.2)(51.1,6.7)(51.5,7.5)(51.9,6.9)(52.3,7.4)(52.7,6.8)(53.1,7.3)(53.5,6.8)(54,7.1)(54.4,6.6)(54.8,7.0)(55.2,6.5)(55.6,6.9)(56,7.6)(56.4,7.2)(56.8,7.8)(57.4,9.2)(57.4,8.8)(57.5,8.4)(57.6,7.7)(57.9,7.3)(58.2,7.6)(58.5,7.1)(58.9,7.4)(59.2,7.0)(59.5,7.5)(59.8,7.2)(60.1,7.6)(60.5,7.0)(60.8,5.8)(60.9,5.7)(61.2,12.1)(61.2,11.5)(61.3,9.8)(61.3,9.7)(61.4,8.6)(61.6,7.4)(62,7.0)(62.4,6.6)(62.8,6.5)(63.2,6.4)(63.6,6.6)(64.2,7.4)(64.4,6.3)(64.8,6.5)(65.2,6.3)(65.6,6.6)(65.8,8.6)(66,6.4)(66.4,6.7)(66.8,6.3)(67.2,6.6)(67.6,6.4)(68,6.8)(68.4,6.5)(68.8,7.0)(69.4,9.0)(69.4,8.6)(69.5,8.1)(69.5,7.9)(69.6,7.4)(69.9,6.9)(70.3,7.4)(70.6,7.0)(71,7.5)(71.5,8.4)(71.6,7.3)(71.9,6.8)(72.3,7.3)(72.7,6.7)(73.1,6.5)
(77,8.3)(77.1,7.7)(77.2,7.5)(77.3,6.3)(77.6,6.6)(77.8,9.9)(77.9,9.7)(78,9.0)(78.1,8.5)(78.2,8.0)(78.5,6.9)(78.9,6.5)(79.3,6.8)(79.7,6.4)(80.1,7.1)(80.5,6.5)(80.9,6.9)(81.3,6.4)(81.7,6.7)(82.1,6.3)(82.5,6.6)(82.9,6.4)(83.3,6.8)(83.7,6.3)(84.1,6.6)(84.5,6.4)(84.9,6.9)(85.3,7.0)(85.7,6.5)(86.1,6.8)(86.5,6.3)(86.9,6.6)(87.3,6.4)(87.7,6.9)(88.1,6.5)(88.5,7.0)(88.9,6.6)(89.3,6.3)(89.7,6.7)(90.1,6.4)(90.5,6.6)(90.9,6.3)(91.3,6.5)(91.7,6.8)(92.1,6.4)(92.5,6.7)(92.9,6.5)(93.3,6.8)(93.7,6.6)(94.1,6.9)(94.5,6.5)(94.9,6.8)(95.3,6.6)(95.7,7.0)(96.1,6.7)(96.6,13.8)(96.6,11.9)(96.7,8.9)(96.7,8.1)(96.8,7.4)(97,9.7)(97.1,9.2)(97.2,7.2)(97.7,9.7)(97.8,6.8)(98.2,7.1)(98.6,6.6)(99,6.9)(99.4,7.2)(99.8,8.4)(99.9,6.7)(100.3,7.0)(100.7,6.6)(101.1,7.1)(101.5,6.7)(101.9,7.2)(102.4,9.7)(102.4,8.6)(102.5,8.1)(102.5,7.4)(102.8,6.8)(103.2,7.3)(103.6,6.7)(104,7.0)(104.4,6.6)(104.7,7.2)(105.1,6.7)(105.5,7.1)(106,9.3)(106,7.9)(106.1,7.2)(106.4,6.7)(106.8,7.1)(107.2,6.6)(107.6,7.0)(108,6.8)(108.4,7.2)(108.8,6.7)(109.2,7.0)(109.6,6.6)(110,7.1)(110.4,6.8)(110.8,7.3)(111.2,6.7)(111.6,7.0)(112.1,9.9)(112.1,8.7)(112.2,8.2)(112.3,7.5)(112.6,7.1)(113,6.8)(113.4,7.2)(113.8,6.7)(114.2,7.1)(114.7,10.0)(114.7,8.4)(114.8,7.7)(114.9,7.3)(115.2,6.8)(115.6,7.2)(116,6.7)(116.4,7.0)(116.8,6.6)(117.2,7.1)(117.6,6.8)(118,7.2)(118.4,6.9)(118.8,7.3)(119.2,8.0)(119.3,7.0)(119.7,7.4)(120.1,6.9)(120.5,7.3)(120.9,6.8)(121.3,7.2)(121.7,6.9)(122.1,7.4)(122.5,7.0)(122.9,7.5)(123.3,7.1)(123.7,7.6)(124.1,7.2)(124.5,7.7)(124.9,7.3)(125.3,7.6)
(137.9,13.2)(137.9,12.3)(138,10.8)(138,10.6)(138.1,10.4)(138.1,9.8)(138.2,9.3)(138.3,7.8)(138.4,7.5)(138.7,7.0)(139.1,6.8)(139.5,7.2)(139.8,8.4)(140,8.0)(140.1,6.9)(140.5,7.3)(140.9,6.8)(141.3,7.1)(141.7,6.7)(142.1,7.0)(142.5,6.8)(142.9,7.2)(143.3,6.9)(143.7,7.3)(144.2,8.6)(144.2,7.9)(144.4,7.0)(144.8,6.8)(145.2,7.2)(145.6,6.9)(146,7.3)(146.4,6.8)(146.8,7.1)(147.4,13.3)(147.4,12.9)(147.5,7.4)(147.8,7.0)(148.2,7.4)(148.6,7.1)(149,7.6)(149.4,7.2)(149.8,7.8)(150.2,7.4)(150.6,8.0)(151,7.5)(151.4,7.9)(151.8,7.3)(152.2,7.7)(152.6,7.2)(153,7.6)(153.5,7.9)(153.9,8.3)(154.1,9.3)(154.2,8.3)(154.4,7.9)(154.8,7.5)(155.2,7.1)(155.6,7.4)(156,7.0)(156.4,7.3)(156.8,6.9)(157.2,7.3)(157.6,6.9)(158,7.2)(158.4,6.8)(158.8,7.1)(159.2,6.9)(159.6,7.3)(160,6.9)(160.4,7.2)(160.8,6.9)(161.2,7.3)(161.6,7.0)(162,7.4)(162.5,7.1)(162.9,7.5)(163.3,10.5)(163.3,9.8)(163.4,9.0)(163.5,8.4)(163.6,8.3)(163.8,7.4)(164.1,7.1)
(185.9,7.2)(186.3,9.6)(186.3,8.6)(186.4,7.6)(186.5,7.2)(186.8,6.8)(187.2,7.0)(187.6,6.7)(188,7.1)(188.4,6.8)(188.8,7.0)(189.2,6.7)(189.6,7.0)(190.2,7.6)(190.4,6.8)(190.8,7.1)(191.2,6.7)(191.6,7.0)(192,6.8)(192.4,7.2)(192.8,6.9)(193.2,7.3)(193.6,6.8)(194,7.2)(194.4,6.9)(194.8,6.7)(195.2,7.1)(195.6,6.8)(196,7.2)(196.4,6.9)(196.8,6.7)(197.2,7.0)(197.6,6.8)(198,7.2)(198.4,7.0)(198.9,11.3)(198.9,8.9)(199,7.5)(199.2,7.3)(199.6,6.9)(200,7.2)(200.4,7.6)(200.8,7.1)(201.2,7.8)(201.6,7.3)(202,8.0)(202.4,8.7)(202.6,8.4)(202.9,7.8)(203.3,8.2)(203.7,7.5)(204.1,8.6)(204.5,7.9)(204.9,8.3)(205.3,7.7)
(230.1,6.2)(230.3,6.5)(230.6,6.8)(231,7.4)(231.4,7.9)(231.8,7.6)(232.2,8.1)(232.6,9.1)(232.6,8.9)(232.8,7.4)(233.2,7.8)(233.6,7.2)(234,7.9)(234.4,7.5)(234.8,8.0)(235.2,7.3)(235.6,7.7)(236,7.1)(236.4,7.8)(236.8,7.4)(237.2,8.1)(237.6,8.4)(237.8,7.6)(237.4,7.3)(237.4,7.0)(237.9,10.6)(238,9.1)(238.1,8.8)(238.2,8.6)(238.4,7.9)(238.8,6.8)(239,6.3)(239.1,5.9)(239.4,7.5)(239.7,8.0)(240.1,7.4)(240.5,9.7)(240.6,9.2)(240.7,9.0)(240.8,8.8)(241,8.3)(241.2,7.6)(241.4,7.1)(241.6,8.7)(241.9,8.4)(242.2,7.4)(242.4,6.9)(242.7,6.5)(243.1,6.2)(243.5,6.3)(243.9,6.1)(244.3,6.3)(244.7,6.0)(245.1,6.2)(245.5,6.5)(245.9,7.2)(246.1,6.2)(246.5,6.0)(246.9,6.3)(247.3,6.1)(247.7,6.2)(248.1,11.7)(248.2,7.1)(248.4,6.0)(248.8,6.3)(249.2,6.1)(249.6,6.4)(250,6.2)(250.4,6.0)(250.8,6.3)(251.2,6.1)(251.6,6.4)(252,6.2)(252.4,6.6)(252.8,7.0)(253.2,7.3)(253.6,6.8)(254,7.4)(254.4,7.0)(254.8,6.6)(255.2,7.2)(255.6,6.7)(256,7.1)(256.4,6.6)(256.8,6.9)(257.2,6.5)(257.6,6.2)(258,6.0)(258.4,5.9)(258.8,6.1)(259.2,5.9)(259.6,6.1)(260,5.9)(260.5,6.0)(261,5.9)(261.4,6.1)(261.9,9.1)(262,8.4)(262.1,7.7)(262.1,7.4)(262.4,6.6)(262.7,10.3)(262.8,10.1)(262.9,9.8)(263,9.6)(263.1,9.4)(263.2,8.2)(263.4,7.5)(263.8,6.8)(264.2,6.5)(264.6,6.3)(265,6.4)(265.4,6.6)(265.8,6.3)(266.2,6.5)(266.6,6.2)(267,6.5)(267.2,8.9)(267.3,8.8)(267.3,8.0)(267.4,7.9)(267.6,6.0)(268,7.2)(268.4,7.0)(268.8,6.3)(269.2,6.1)(269.6,6.2)(270,6.0)(270.4,6.1)(270.8,5.9)(271.2,6.1)(271.6,6.0)(272,6.2)(272.4,6.0)(272.8,6.1)(273.2,5.9)(273.6,6.2)(274,6.0)(274.4,6.2)(274.8,6.4)(275.2,6.6)(275.6,6.9)(276,7.3)(276.3,7.6)(276.6,9.1)(276.7,8.4)(276.8,7.1)(277.1,6.5)(277.4,7.0)(277.7,7.4)(278,6.8)(278.3,7.3)(278.6,7.7)(278.9,7.9)(279.2,7.2)(279.5,7.6)(279.8,8.0)(280.2,7.5)(280.5,8.2)(280.9,8.0)(281.3,7.8)
(287.5,7.4)(287.7,6.2)(287.9,7.0)(288.1,6.6)(288.4,7.9)(288.6,7.2)(289,8.0)(289.3,7.6)(289.7,12.6)(289.7,8.4)(289.8,7.6)(290.1,7.3)(290.5,7.8)(290.8,6.6)(291,6.1)(291.2,6.0)(291.4,7.4)(291.8,7.9)(292.2,7.2)(292.5,8.1)(293.1,13.2)(293.7,11.6)(293.7,11.4)(293.8,11.0)(293.9,10.0)(294,8.8)(294,8.6)(294.2,8.4)(294.3,7.9)(294.5,7.4)(294.7,6.9)(295,7.6)(295.4,7.2)(296,6.1)(296.1,6.0)(296.4,8.9)(296.6,7.5)(297,7.1)(297.4,7.7)(297.8,7.3)(298.2,7.9)(298.6,7.4)(299,8.6)(299.2,7.8)(299.6,7.4)(300,8.0)(300.4,7.5)(300.7,9.3)(300.8,9.0)(300.9,8.8)(301,8.2)(301.3,7.7)(301.7,8.1)(302.1,7.4)(302.5,7.9)(302.8,9.8)(302.9,7.5)(303.3,8.0)(303.7,7.4)(304.1,7.8)(304.5,7.3)(304.9,7.7)(305.3,7.1)(305.7,7.6)(306.1,7.2)(306.5,7.5)(306.8,7.1)(307.1,7.4)
(311.5,8.2)(311.7,8.5)(312,7.9)(312.4,10.8)(312.5,9.3)(312.6,9.0)(312.7,8.4)(313,7.8)(313.4,8.3)(313.8,7.7)(314.2,8.1)(314.6,7.6)(315,8.0)(315.4,7.5)(315.8,7.9)(316.2,7.4)(316.6,7.8)(317,7.5)(317.4,7.9)(317.8,7.6)(318.2,8.1)(318.6,7.7)(318.8,8.9)(319,8.6)(319.1,8.3)(319.4,7.9)(319.8,7.5)(320.2,7.1)(320.5,6.9)(320.8,6.7)(321,6.6)(321.3,7.0)(321.6,9.4)(321.6,8.4)(321.7,7.8)(321.8,7.4)(322.1,7.7)(322.5,7.4)(322.8,13.4)(322.9,7.9)(323.3,7.5)(323.7,7.8)
(339.8,7.9)(340.3,8.2)(340.8,7.6)(341.3,8.0)(341.8,7.4)(342.2,8.9)(342.3,8.3)(342.4,8.0)(342.7,7.6)(343,7.9)(343.3,7.2)(343.6,7.8)(343.9,7.4)
(378.7,7.6)(379.1,7.9)(379.5,7.4)(379.9,8.1)(380.3,7.6)(380.7,8.0)(381.1,7.5)(381.5,8.3)(381.8,9.2)(382,7.8)(382.4,8.0)(382.7,8.4)(383,7.7)(383.4,8.1)(383.8,7.5)(384.2,7.9)(384.6,7.4)(385,8.0)(385.4,7.6)(385.8,8.1)(386.2,7.5)(386.6,7.9)(387,7.4)(387.4,8.9)(387.4,8.6)(387.6,7.8)(388,7.4)(388.4,7.9)(388.8,7.5)(389.2,7.7)(389.6,7.3)(390,7.6)(390.4,7.4)(393.5,9.3)(393.5,8.7)(393.6,7.1)(395.4,7.0)(395.5,6.6)(395.6,6.3)(395.7,5.6)(396.1,10.2)(396.1,8.8)(396.2,6.9)(396.3,6.2)
(407.3,7.1)(407.6,7.4)(407.9,7.2)(408.3,7.6)(408.7,7.4)(409.1,7.8)(409.5,7.5)(409.8,7.9)(410.2,11.1)(410.2,9.6)(410.3,9.4)(410.3,8.8)(410.4,8.6)(410.6,8.2)(410.9,7.7)(411.2,8.0)(411.5,7.6)(411.9,8.4)(412.2,9.6)(412.3,8.1)(412.6,7.5)(413,7.9)(413.3,7.3)(413.7,7.8)(414.1,7.2)(414.5,8.0)(414.9,7.4)(415.3,8.3)(415.6,7.1)(416,7.9)(416.4,7.3)(416.8,8.2)(417.2,7.6)(417.6,8.6)(417.8,7.2)(418.2,8.5)(418.4,7.8)(418.8,7.4)(419.2,8.1)(419.9,13.1)(419.9,12.1)(420,8.5)(420,8.2)(420.3,7.6)(420.7,7.9)(421.1,7.4)(421.5,7.8)(422,7.5)(422.5,10.9)(422.5,10.5)(422.6,9.4)(422.6,9.0)(422.7,8.4)(423,7.7)(423.7,9.6)(423.8,7.9)(424.2,7.5)(424.6,7.8)(425,8.4)(425.4,7.6)(425.8,7.9)(426.2,7.5)(426.7,7.8)(427.6,10.7)(427.6,9.3)(427.7,7.9)(428.3,10.0)(428.5,7.6)(428.9,7.9)(429.3,7.5)(429.7,7.8)(430.1,7.6)(430.5,7.9)(430.9,7.5)(431.3,7.8)(431.7,7.6)(432.4,10.0)(432.4,8.7)(432.5,8.5)(432.6,8.3)(432.7,7.9)(433,7.5)(433.4,7.4)(433.8,7.6)(434.2,7.3)(434.6,7.5)(435,7.4)(435.4,7.6)(435.8,7.3)(436.2,7.5)(436.6,7.4)(437,7.6)(437.4,7.3)(437.8,7.5)(438.2,7.3)(438.6,7.6)(439,7.4)(439.4,7.5)(439.8,7.3)(440.2,7.5)(440.6,7.4)(441,7.6)(441.4,7.3)(441.8,7.5)(442.2,7.4)(442.6,7.6)(443,7.4)(443.4,7.5)(443.8,7.7)(444.3,8.4)(444.3,7.9)(444.7,7.4)(445.1,7.6)(445.5,7.4)(445.9,7.6)(446.3,7.4)(446.7,7.5)(447.1,7.4)(447.5,7.6)(447.9,7.5)(448.3,7.7)(448.7,9.5)(448.7,8.6)(448.8,8.2)(448.9,7.9)(449.2,7.5)
(0.8,6.1)(2.4,6.8)(4,6.1)(5.6,6.8)(7.2,6.1)(8.8,6.2)(10.4,6.6)(12,6.1)(13.6,6.8)
(26,6.9)(27.2,6.1)(30.6,7.0)(31.8,6.3)(33,6.5)(34.2,7.5)(35.4,6.6)(36.6,7.3)(42,6.6)(43.6,7.6)(46.4,7.2)(47.6,6.5)(48.8,7.4)(50,6.5)(51.2,7.2)(52.4,6.6)(53.6,7.5)(55,6.8)(58,7.0)(59,7.7)(62.2,6.3)(63.8,6.8)(65.4,6.1)(66.6,6.4)(67.8,6.2)(70,7.1)(72,6.6)
(80.3,6.7)(81.5,6.2)(82.7,6.8)(84.3,6.2)(86.3,6.9)(87.5,6.2)(89.5,6.9)(90.7,6.2)(92.3,6.6)(93.5,6.3)(95.1,6.4)(98.4,6.9)(100.5,6.8)(101.7,6.5)(103.4,6.9)(104.6,6.5)(107.4,7.2)(108.6,6.5)(110.6,6.9)(111.8,6.6)(116.2,6.9)(117.4,7.0)(118.6,7.1)(120.3,7.5)(121.5,7.0)(122.7,7.2)(124.3,7.4)(125,7.1)
(141.5,7.2)(142.7,6.7)(145.4,7.4)(146.6,6.7)(148.4,7.2)(149.6,7.5)(150.8,7.7)(152,7.5)(155.4,7.2)(156.6,7.1)(157.8,7.1)(159,7.2)(160.2,7.0)(161.4,7.1)(162.6,7.3)
(187.8,6.8)(189,7.2)(190.6,7.2)(191.8,6.9)(193,7.0)(194.6,7.1)(195.8,6.9)(197,6.7)(198.2,7.0)
(244.5,6.1)(245.7,6.0)(247.1,6.3)(248.6,6.2)(249.8,6.0)(251,6.3)(252.2,6.4)(253.4,7.0)(254.6,7.3)(255.8,6.9)(257,6.8)(258.2,6.1)(259.4,5.8)(260.8,6.2)(265.2,6.2)(266.4,6.4)(269,6.2)(270.2,5.9)(271.4,6.2)(272.6,6.1)(273.8,6.1)(275,6.5)
(297.2,7.4)(298.4,7.6)(299.8,7.7)(301.9,7.8)(303.5,7.7)(304.7,7.5)(305.9,7.4)
(313.2,8.0)(314.4,7.8)(315.6,7.7)(316.8,7.6)(318,7.8)
(408.1,7.3)(409.3,7.6)(411,7.5)(413.5,7.6)(414.7,7.7)(416.2,7.6)(418,7.3)(421.3,7.6)(424.4,7.6)(426,7.7)(429.1,7.7)(430.7,7.7)(433.2,7.4)(434.4,7.4)(436,7.5)(437.6,7.4)(439.2,7.4)(440.8,7.5)(442.4,7.5)(444,7.5)(445.7,7.5)(447.3,7.5)(448.5,7.6)
};
\end{axis}
% ---------------- HFC-365mfc ----------------
\begin{axis}[panel, at={(100.8pt,-469pt)}, height=108.5pt, ymin=0, ymax=3,
  xtick={0,105,210,315,420}, xticklabels={Nov-07,Feb-08,Jun-08,Sep-08,Dec-08},
  minor xtick={52.5,157.5,262.5,367.5}, xtick pos=left,
  typeset ticklabels with strut, xticklabel style={yshift=-3.2pt},
  ytick={0,1,2,3}, minor ytick={0.5,1.5,2.5}, ytick pos=left, yticklabel pos=left,
  ylabel={HFC-365mfc\\{[ppt]}}, ylabel style={at={(rel axis cs:-0.1039,0.5)}, anchor=center, align=center},
  xlabel={Date}, xlabel style={at={(rel axis cs:0.4965,-0.70)}, anchor=center, inner sep=1pt}]
\addplot[pts=cD] coordinates {
(0,0.47)(0.4,0.51)(0.8,0.45)(1.2,0.49)(1.6,0.53)(2,0.46)(2.4,0.50)(2.8,0.44)(3.2,0.52)(3.6,0.47)(4,0.50)(4.4,0.45)(4.8,0.53)(5.2,0.48)(5.6,0.51)(6,0.46)(6.4,0.54)(6.8,0.49)(7.2,0.57)(7.6,0.52)(7.8,0.70)(8,2.43)(8.2,0.64)(8.5,0.55)(8.9,0.49)(9.3,0.53)(9.7,0.47)(10.1,0.51)(10.5,0.46)(10.9,0.54)(11.1,1.29)(11.3,0.50)(11.7,0.55)(12.1,0.48)(12.5,0.53)(12.9,0.58)(13.3,0.50)(13.7,0.56)(14.1,0.49)(14.5,0.54)(14.9,0.51)
(25,0.52)(25.4,0.47)(25.8,0.55)(26.2,0.49)(26.6,0.53)(27,0.46)(27.4,0.51)(27.8,0.55)(28.2,0.48)(28.6,0.52)(29.1,0.97)(29.1,0.71)(29.2,0.60)(29.5,0.50)(29.9,0.54)(30.3,0.47)(30.7,0.52)(31.1,0.49)(31.5,0.54)(31.9,0.47)(32.3,0.51)(32.7,0.48)(33.1,0.53)(33.5,0.50)(33.9,0.46)(34.3,0.52)(34.7,0.49)(35.1,0.55)(35.5,0.48)(35.9,0.53)(36.3,0.50)(36.7,0.56)(37.1,0.49)(37.5,0.54)(37.9,0.60)(38.3,0.52)(38.7,0.65)(39.1,0.75)(39.5,1.70)(39.5,1.38)(39.6,1.14)(39.6,1.10)(39.7,0.76)(39.8,0.71)(40.1,0.55)(40.5,0.61)(40.9,0.52)(41.3,0.58)(41.7,0.67)(42.1,0.84)(42.6,1.61)(42.6,1.45)(42.7,1.28)(42.8,0.88)(42.9,0.75)(43.1,0.65)(43.4,0.72)(43.7,0.58)(44,0.63)(44.3,1.30)(44.5,1.10)(44.6,0.97)(44.7,1.04)(44.9,0.93)(45,0.62)(45.3,0.66)(45.6,0.55)(46,0.60)(46.4,0.50)(46.8,0.55)(47.2,0.49)(47.6,0.53)(48,0.48)(48.4,0.52)(48.8,0.47)(49.2,0.51)(49.6,0.49)(50,0.54)(50.4,0.48)(50.8,0.53)(51.2,0.50)(51.6,0.55)(52,0.49)(52.4,0.52)(52.8,0.47)(53.2,0.51)(53.6,0.48)(54,0.53)(54.4,0.58)(54.8,0.50)(55.2,0.46)(55.6,0.51)(55.9,0.90)(55.9,0.84)(56.2,0.50)(56.6,0.47)(57,0.52)(57.4,0.49)(57.8,0.54)(58.2,0.47)(58.6,0.51)(59,0.56)(59.4,2.21)(59.4,2.06)(59.5,1.56)(59.5,1.45)(59.8,0.53)(60.2,0.62)(60.6,0.50)(61.1,1.02)(61.1,0.98)(61.2,0.78)(61.2,0.65)(61.4,2.65)(61.5,2.08)(61.5,1.26)(61.7,0.58)(62.1,0.49)(62.5,0.53)(62.9,0.47)(63.3,0.52)(63.7,0.56)(64.1,0.50)(64.5,0.54)(64.9,0.48)(65.3,0.53)(65.9,1.17)(66,0.57)(66.4,0.51)(66.8,0.55)(67.2,0.49)(67.6,0.53)(68,2.51)(68.1,0.50)(68.4,1.14)(68.6,1.12)(68.8,1.13)(69,0.70)(69.3,0.62)(69.6,0.67)(69.9,0.58)(70.2,1.10)(70.3,0.72)(70.6,0.64)(70.9,0.85)(71.2,0.68)(71.5,1.10)(71.6,0.61)(72,0.56)(72.4,0.62)(72.8,0.54)(73.2,0.58)(73.6,0.52)(74,0.57)(74.4,0.50)(74.8,0.55)
(76.6,0.53)(77,0.48)(77.4,0.52)(77.8,0.47)(78.2,0.51)(78.6,0.49)(79,0.53)(79.4,0.47)(79.8,0.50)(80.2,0.46)(80.6,0.51)(81,0.48)(81.4,0.53)(81.8,0.47)(82.2,0.50)(82.6,0.48)(83,0.52)(83.5,0.85)(83.5,0.71)(83.8,0.50)(84.4,1.80)(84.5,0.47)(84.9,0.51)(85.3,0.48)(85.7,0.52)(86.1,0.47)(86.5,0.50)(86.9,0.48)(87.3,0.53)(87.7,0.47)(88.1,0.51)(88.5,0.49)(88.9,0.46)(89.3,0.52)(89.7,0.48)(90.1,0.50)(90.5,0.47)(90.9,0.52)(91.3,0.48)(91.7,0.51)(92.1,0.46)(92.5,0.50)(92.9,0.48)(93.3,0.53)(93.7,0.49)(94.1,0.47)(94.5,0.51)(94.9,0.48)(95.3,0.52)(95.7,0.49)(96.1,0.47)(96.5,0.51)(96.9,0.48)(97.3,0.53)(97.7,0.50)(98.1,0.46)(98.5,0.51)(98.9,0.49)(99.3,0.53)(99.7,0.48)(100.1,0.52)(100.5,0.47)(100.9,0.50)(101.3,0.54)(101.7,0.49)(102.1,0.52)(102.5,0.47)(102.9,0.51)(103.3,0.48)(103.7,0.53)(104.1,0.49)(104.5,0.52)(104.9,0.47)(105.3,0.50)(105.7,0.48)(106.1,0.52)(106.5,0.49)(106.9,0.53)(107.3,0.48)(107.7,0.51)(108.1,0.47)(108.5,0.52)(108.9,0.99)(108.9,0.76)(109.1,0.55)(109.5,0.49)(109.9,0.53)(110.3,0.48)(110.7,0.52)(111.1,0.49)(111.5,0.54)(111.9,0.50)(112.3,0.53)(112.7,0.48)(113.1,0.52)(113.5,0.50)(113.9,0.54)(114.3,0.49)(114.7,0.53)(115.1,0.50)(115.5,0.47)(115.9,0.52)(116.3,0.49)(116.7,0.53)(117.1,0.50)(117.5,0.54)(117.9,0.48)(118.3,0.52)(118.7,0.49)(119.1,0.53)(119.5,0.50)(119.9,0.47)(120.3,0.52)(120.7,0.49)(121.1,0.54)(121.5,0.50)(121.9,0.53)(122.3,0.48)(122.7,0.52)(123,0.64)(123.1,0.58)(123.4,0.51)(123.8,0.55)(124.2,0.49)(124.6,0.53)(125,0.50)(125.4,0.54)(125.9,0.51)
(136.7,0.55)(137.1,0.50)(137.5,0.54)(137.9,0.49)(138.3,0.53)(138.7,0.58)(139.1,0.51)(139.5,0.55)(139.9,0.50)(140.3,0.56)(140.7,0.52)(141.1,0.57)(141.5,0.53)(141.9,0.58)(142.3,0.54)(142.7,0.60)(143.1,0.55)(143.5,0.61)(143.9,0.56)(144.3,0.52)(144.7,0.58)(145.1,0.63)(145.5,0.55)(145.9,0.60)(146.3,0.66)(146.7,0.58)(147.1,0.64)(147.5,0.70)(147.9,0.60)(148.3,0.67)(148.7,0.74)(149.1,0.63)(149.5,0.70)(149.9,0.78)(150.3,0.66)(150.7,0.73)(151.1,0.82)(151.5,0.68)(151.9,0.76)(152.3,0.88)(152.7,0.72)(153.1,0.80)(153.5,0.92)(153.9,0.74)(154.3,0.85)(154.7,1.02)(155,0.80)(155.4,0.66)(155.6,2.20)(155.7,2.05)(155.8,1.20)(156,0.88)(156.4,0.75)(156.8,0.95)(157.2,0.70)(157.6,0.82)(158,0.66)(158.4,0.78)(158.8,0.90)(159.2,0.72)(159.6,0.85)(160,1.05)(160.3,0.78)(160.7,0.92)(161.1,0.70)(161.5,1.25)(161.6,1.40)(161.8,0.95)(162,0.82)(162.1,2.00)(162.4,1.15)(162.6,0.88)(162.9,0.76)(163.2,0.95)(163.5,0.84)(163.9,0.72)
(185,0.58)(185.4,0.54)(185.8,0.60)(186.2,0.55)(186.6,0.52)(187,0.58)(187.4,0.53)(187.8,0.57)(188.2,0.51)(188.6,0.56)(189,0.53)(189.4,0.59)(189.8,0.54)(190.2,0.57)(190.6,0.52)(191,0.56)(191.4,0.51)(191.8,0.55)(192.2,0.52)(192.6,0.57)(193,0.53)(193.4,0.56)(193.8,0.51)(194.2,0.55)(194.6,0.52)(195,0.57)(195.4,0.53)(195.8,0.50)(196.2,0.55)(196.6,0.52)(197,0.56)(197.4,0.51)(197.8,0.55)(198.2,0.53)(198.6,0.58)(199,0.54)(199.4,0.60)(199.8,0.55)(200.2,0.62)(200.6,0.57)(201,0.66)(201.4,0.72)(201.8,0.80)(202.2,0.75)(202.6,0.69)(203,0.78)(203.4,0.71)(203.8,0.65)(204.2,0.62)(204.6,0.58)(205,0.60)
(229.2,0.45)(229.5,0.42)(229.8,0.48)(230.1,0.72)(230.4,0.85)(230.7,0.65)(231,1.26)(231.1,0.95)(231.3,0.78)(231.6,0.63)(231.9,0.88)(232.2,0.70)(232.5,0.82)(232.8,0.66)(233.1,0.92)(233.4,0.74)(233.7,0.86)(234,0.68)(234.3,0.80)(234.6,0.72)(234.9,0.95)(235.2,0.78)(235.5,1.20)(235.6,1.05)(235.8,0.84)(236.1,0.70)(236.4,1.42)(236.5,1.12)(236.7,1.91)(236.8,0.90)(237.1,0.76)(237.4,0.88)(237.7,0.66)(238,1.18)(238,1.05)(238.3,0.82)(238.6,0.95)(238.9,0.70)(239.2,0.86)(239.5,0.62)(239.8,0.45)(239.9,0.40)(240.1,0.75)(240.4,1.25)(240.5,1.10)(240.6,0.92)(240.8,0.72)(241,0.66)(241.3,0.58)(241.6,0.46)(241.9,0.40)(242.2,0.38)(242.6,0.43)(243,0.36)(243.4,0.41)(243.8,0.37)(244.2,0.44)(244.6,0.39)(245,0.57)(245.3,0.48)(245.6,0.40)(246,0.36)(246.4,0.42)(246.8,0.38)(247.2,0.45)(247.6,0.40)(248,0.37)(248.4,0.43)(248.8,0.39)(249.2,0.46)(249.6,0.41)(250,0.38)(250.4,0.44)(250.8,0.40)(251.2,0.47)(251.6,0.55)(252,0.62)(252.3,0.78)(252.6,0.85)(252.9,0.70)(253.2,0.58)(253.5,0.50)(253.9,0.44)(254.3,0.55)(254.7,0.62)(255.1,0.48)(255.5,0.41)(255.9,0.52)(256.3,0.45)(256.7,0.38)(257.1,0.44)(257.5,0.36)(257.9,0.42)(258.3,0.48)(258.7,0.40)(259.1,0.35)(259.5,0.43)(259.9,0.39)(260.3,0.46)(260.7,0.41)(261.1,0.37)(261.5,0.44)(261.9,0.40)(262.3,0.47)(262.7,0.42)(263.1,0.55)(263.5,0.44)(263.9,0.39)(264.3,0.45)(264.7,0.40)(265.1,0.36)(265.5,0.43)(265.9,0.38)(266.3,0.45)(266.7,0.41)(267.1,0.37)(267.5,0.43)(267.9,0.39)(268.3,0.46)(268.7,0.40)(269.1,0.36)(269.5,0.42)(269.9,0.38)(270.3,0.44)(270.7,0.40)(271.1,0.47)(271.5,0.41)(271.9,0.37)(272.3,1.08)(272.4,0.55)(272.6,0.43)(273,0.39)(273.4,0.45)(273.8,0.40)(274.2,0.36)(274.6,0.42)(275,0.47)(275.4,0.40)(275.8,0.44)(276.2,0.38)(276.6,0.43)(277,0.48)(277.4,0.42)(277.8,0.46)(278.2,0.41)(278.6,0.50)(279,0.45)(279.4,0.52)(279.8,0.58)(280.1,0.62)(280.4,0.55)
(287.5,0.52)(287.9,0.48)(288.3,0.55)(288.7,0.45)(289.1,0.52)(289.5,0.47)(289.9,0.54)(290.3,0.49)(290.7,0.44)(291.1,0.51)(291.5,0.38)(291.8,0.34)(292.1,0.50)(292.5,0.55)(292.9,0.42)(293.3,0.58)(293.7,0.53)(294.1,0.60)(294.5,0.55)(294.9,0.62)(295.3,0.57)(295.7,0.64)(296.1,0.59)(296.5,0.68)(296.9,0.62)(297.3,0.72)(297.6,0.66)(297.9,0.75)(298.2,0.68)(298.5,0.78)(298.8,0.70)(299.1,0.80)(299.4,0.72)(299.7,0.85)(300,0.74)(300.3,0.82)(300.6,0.70)(300.9,0.78)(301.1,0.92)(301.4,1.83)(301.5,0.75)(301.8,0.68)(302.1,1.44)(302.2,1.38)(302.3,1.17)(302.5,1.05)(302.7,0.96)(302.9,0.82)(303.2,0.88)(303.5,0.74)(303.8,0.66)(304.1,0.78)(304.4,0.62)(304.7,0.70)(305,0.58)(305.3,0.68)(305.6,0.54)(306,0.62)(306.4,0.56)(306.7,0.65)
(311,0.78)(311.3,0.65)(311.6,1.80)(311.7,1.27)(311.8,1.22)(312,0.95)(312.2,0.74)(312.5,0.62)(312.8,0.70)(313.1,0.58)(313.4,0.75)(313.7,0.66)(314,1.20)(314.1,1.15)(314.2,1.00)(314.3,0.92)(314.5,0.80)(314.8,0.68)(315.1,0.74)(315.4,0.60)(315.7,0.78)(316,0.65)(316.3,0.72)(316.6,0.58)(316.9,0.76)(317.2,0.63)(317.5,0.82)(317.8,0.70)(318.1,0.66)(318.4,0.75)(318.7,0.62)(319,0.72)(319.3,0.85)(319.6,0.68)(319.9,0.95)(320.2,0.90)(320.5,0.76)(320.8,0.64)(321.1,0.55)(321.4,0.98)(321.5,0.88)(321.7,0.50)(322,0.62)(322.3,0.95)(322.4,0.86)(322.7,0.52)(323,0.60)
(339.6,0.70)(340.1,0.76)(340.6,0.64)(341.1,0.58)(341.6,0.80)(342,1.08)(342.2,0.95)(342.4,0.88)(342.6,0.78)(342.9,0.62)(343.2,0.57)(343.6,0.60)
(378.9,0.58)(379.3,0.55)(379.7,0.60)(380.1,0.53)(380.5,1.26)(380.6,1.05)(380.7,1.00)(380.9,0.87)(381.1,0.78)(381.3,0.68)(381.6,0.60)(382,0.56)(382.4,0.62)(382.8,0.55)(383.2,0.59)(383.6,0.53)(384,0.58)(384.4,0.55)(384.8,0.61)(385.2,0.56)(385.6,0.52)(386,0.58)(386.4,0.54)(386.8,0.57)(387.2,0.51)(387.6,0.55)(388,0.52)(388.4,0.57)(388.8,0.53)(389.2,0.56)(389.6,0.52)(390,0.55)(391.5,0.58)(392.8,0.80)(393,0.55)(394.8,0.60)(395,0.52)(395.3,0.58)
(407.2,0.58)(407.6,0.54)(408,0.61)(408.4,0.56)(408.8,0.52)(409.2,0.59)(409.6,0.63)(410,0.55)(410.4,0.57)(410.8,0.51)(411.2,0.60)(411.6,0.56)(412,0.62)(412.4,0.53)(412.8,0.58)(413.2,0.55)(413.6,0.61)(414,0.57)(414.4,0.52)(414.8,0.59)(415.2,0.56)(415.6,0.63)(416,0.54)(416.4,0.58)(416.8,0.60)(417.2,0.53)(417.6,0.57)(418,0.62)(418.4,0.55)(418.8,0.59)(419.2,0.51)(419.6,0.57)(420,0.61)(420.4,0.54)(420.8,0.58)(421.2,0.56)(421.6,0.63)(422,0.55)(422.4,0.60)(422.8,0.53)(423.2,0.59)(423.6,0.56)(424,0.62)(424.4,0.54)(424.8,0.58)(425.2,0.52)(425.6,0.60)(426,0.57)(426.4,0.55)(426.8,0.61)(427.2,0.53)(427.6,0.58)(428,0.56)(428.4,0.62)(428.8,0.54)(429.2,0.59)(429.6,0.57)(430,0.52)(430.4,0.60)(430.8,0.55)(431.2,0.58)(431.6,0.53)(432,0.61)(432.4,0.56)(432.8,0.59)(433.2,0.54)(433.6,0.57)(434,0.62)(434.4,0.55)(434.8,0.52)(435.2,0.58)(435.6,0.56)(436,0.60)(436.4,0.53)(436.8,0.57)(437.2,0.55)(437.6,0.61)(438,0.54)(438.4,0.58)(438.8,0.52)(439.2,0.59)(439.6,0.56)(440,0.53)(440.4,0.58)(440.8,0.55)(441.2,0.60)(441.6,0.54)(442,0.57)(442.4,0.52)(442.8,0.59)(443.2,0.55)(443.6,0.58)(444,0.53)(444.4,0.57)(444.8,0.54)(445.2,0.60)(445.6,0.56)(446,0.52)(446.4,0.58)(446.8,0.55)(447.2,0.59)(447.6,0.53)(448,0.57)(448.4,0.54)(448.8,0.60)(449.2,0.56)
(407.4,0.52)(408.6,0.60)(409.8,0.51)(411,0.62)(412.2,0.58)(413.4,0.50)(414.6,0.62)(415.8,0.52)(417,0.60)(418.2,0.51)(419.4,0.62)(420.6,0.52)(421.8,0.59)(423,0.50)(424.2,0.61)(425.4,0.56)(426.6,0.52)(427.8,0.61)(429,0.51)(430.2,0.58)(431.4,0.62)(432.6,0.52)(433.8,0.60)(435,0.51)(436.2,0.62)(437.4,0.52)(438.6,0.61)(439.8,0.51)(441,0.58)(442.2,0.61)(443.4,0.51)(444.6,0.60)(445.8,0.52)(447,0.61)(448.2,0.51)
(0.2,0.44)(1.4,0.55)(2.6,0.47)(3.8,0.54)(5,0.44)(6.2,0.52)(9.1,0.56)(10.3,0.44)(12.3,0.56)(13.5,0.47)
(46.2,0.54)(47.4,0.46)(48.6,0.55)(49.8,0.46)(51,0.55)(52.2,0.46)(53.4,0.54)(57.2,0.46)(58.4,0.55)(62.3,0.55)(63.5,0.46)(64.7,0.55)(66.6,0.47)(67.4,0.56)
(78,0.54)(79.2,0.45)(80.4,0.53)(81.6,0.45)(85.1,0.54)(86.3,0.45)(87.5,0.51)(89.1,0.54)(90.3,0.45)(91.5,0.54)(93.1,0.46)(94.3,0.54)(96.3,0.45)(97.5,0.51)(99.5,0.45)(100.7,0.54)(102.7,0.45)(103.9,0.54)(105.5,0.45)(106.7,0.55)(110.1,0.45)(111.3,0.51)(113.3,0.46)(114.5,0.56)(116.5,0.46)(117.7,0.51)(119.3,0.45)(120.5,0.55)(122.1,0.46)(124,0.46)
(187.2,0.55)(189.2,0.50)(191.2,0.58)(193.2,0.50)(195.2,0.58)(197.2,0.58)(199.2,0.51)
(243.2,0.44)(245.8,0.44)(247.8,0.34)(249.8,0.44)(256.9,0.41)(258.9,0.45)(261.3,0.35)(264.5,0.43)(266.9,0.44)(268.9,0.34)(270.9,0.35)(273.2,0.43)(275.6,0.37)(277.6,0.38)
};
\end{axis}
\end{tikzpicture}
\end{document}
